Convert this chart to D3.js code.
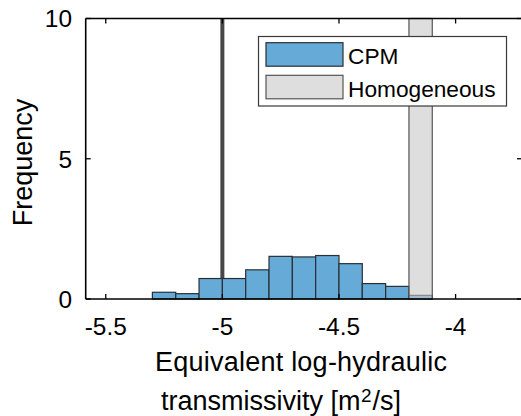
<!DOCTYPE html>
<html><head><meta charset="utf-8">
<script src="https://cdn.jsdelivr.net/npm/d3@7"></script>
<style>body{margin:0;background:#fff}svg{display:block}text{font-family:"Liberation Sans",Arial,Helvetica,sans-serif;fill:#000}</style>
</head><body>
<script>
// Data
const binEdgesStart = [-5.4,-5.3,-5.2,-5.1,-5.0,-4.9,-4.8,-4.7,-4.6,-4.5,-4.4,-4.3,-4.2,-4.1];
const cpmValues     = [0, 0.24, 0.19, 0.73, 0.73, 1.04, 1.52, 1.50, 1.55, 1.26, 0.55, 0.45, 0.13, 0];
const homStart = [-4.2];
const homValues = [10];
const binWidth = 0.1;
const refLine = [-5.0];
const xTicks = [-5.5, -5, -4.5, -4];
const xTickLabels = ["-5.5", "-5", "-4.5", "-4"];
const yTicks = [0, 5, 10];
const legendLabels = ["CPM", "Homogeneous"];

const W = 521, H = 416;
const svg = d3.select("body").append("svg").attr("width", W).attr("height", H);
const x = d3.scaleLinear().domain([-5.586, -3.72]).range([85.7, 520.9]);
const y = d3.scaleLinear().domain([0, 10]).range([299, 18.5]);

// reference line (behind bars)
svg.selectAll(".ref").data(refLine).enter().append("line")
  .attr("x1", d => x(d)).attr("x2", d => x(d))
  .attr("y1", y(10)).attr("y2", y(0))
  .attr("stroke", "#474747").attr("stroke-width", 4);

const cpm = binEdgesStart.map((s, i) => ({s, v: cpmValues[i]}));
svg.selectAll(".cpm").data(cpm).enter().append("rect")
  .attr("x", d => x(d.s)).attr("width", d => x(d.s + binWidth) - x(d.s))
  .attr("y", d => y(d.v)).attr("height", d => y(0) - y(d.v))
  .attr("fill", "#66aad7")
  .attr("stroke", d => d.v === 0 ? "#bdbdbd" : "#2a2f33")
  .attr("stroke-width", 1.2);

const hom = homStart.map((s, i) => ({s, v: homValues[i]}));
svg.selectAll(".hom").data(hom).enter().append("rect")
  .attr("x", d => x(d.s)).attr("width", d => x(d.s + binWidth) - x(d.s))
  .attr("y", d => y(d.v)).attr("height", d => y(0) - y(d.v))
  .attr("fill", "#c8c8c8").attr("fill-opacity", 0.6)
  .attr("stroke", "#555").attr("stroke-width", 1.2);

// axes box
const ax = svg.append("g").attr("stroke", "#000").attr("stroke-width", 1.6).attr("fill", "none");
ax.append("line").attr("x1", x.range()[0]).attr("x2", W + 2).attr("y1", y(0)).attr("y2", y(0));
ax.append("line").attr("x1", x.range()[0]).attr("x2", W + 2).attr("y1", y(10)).attr("y2", y(10));
ax.append("line").attr("x1", x.range()[0]).attr("x2", x.range()[0]).attr("y1", y(10)).attr("y2", y(0));

const tl = 5;
xTicks.forEach(t => {
  ax.append("line").attr("x1", x(t)).attr("x2", x(t)).attr("y1", y(0)).attr("y2", y(0) - tl).attr("stroke-width", 1.3);
  ax.append("line").attr("x1", x(t)).attr("x2", x(t)).attr("y1", y(10)).attr("y2", y(10) + tl).attr("stroke-width", 1.3);
});
yTicks.forEach(t => {
  ax.append("line").attr("x1", x.range()[0]).attr("x2", x.range()[0] + tl).attr("y1", y(t)).attr("y2", y(t)).attr("stroke-width", 1.3);
  ax.append("line").attr("x1", W - tl + 1).attr("x2", W + 1).attr("y1", y(t)).attr("y2", y(t)).attr("stroke-width", 1.3);
});

// tick labels
svg.selectAll(".xt").data(xTicks).enter().append("text")
  .attr("x", d => x(d)).attr("y", 335).attr("text-anchor", "middle")
  .attr("font-size", 24.4).text((d, i) => xTickLabels[i]);
svg.selectAll(".yt").data(yTicks).enter().append("text")
  .attr("x", 72).attr("y", d => y(d) + 8.8).attr("text-anchor", "end")
  .attr("font-size", 24.4).text(d => d);

// axis labels
svg.append("text").attr("transform", "translate(32,162.5) rotate(-90)")
  .attr("text-anchor", "middle").attr("font-size", 27).text("Frequency");
svg.append("text").attr("x", 155).attr("y", 371).attr("font-size", 27)
  .attr("textLength", 292).attr("lengthAdjust", "spacing").text("Equivalent log-hydraulic");
const l2 = svg.append("text").attr("x", 161).attr("y", 410).attr("font-size", 27);
l2.append("tspan").text("transmissivity [m");
l2.append("tspan").attr("font-size", 19).attr("dx", 0.5).attr("dy", -8.5).text("2");
l2.append("tspan").attr("dx", 1).attr("dy", 8.5).text("/s]");

// legend
const lg = svg.append("g");
lg.append("rect").attr("x", 258.5).attr("y", 36.5).attr("width", 248).attr("height", 69.5)
  .attr("fill", "#fff").attr("stroke", "#3a3a3a").attr("stroke-width", 1.2);
const legFills = [{f: "#66aad7", s: "#2a2f33", y: 42.7}, {f: "#dedede", s: "#555", y: 75.3}];
legFills.forEach((d, i) => {
  lg.append("rect").attr("x", 266).attr("y", d.y).attr("width", 77).attr("height", 23.5)
    .attr("fill", d.f).attr("stroke", d.s).attr("stroke-width", 1.2);
  lg.append("text").attr("x", 348).attr("y", d.y + 21.5).attr("font-size", 22.7).text(legendLabels[i]);
});
</script>
</body></html>
